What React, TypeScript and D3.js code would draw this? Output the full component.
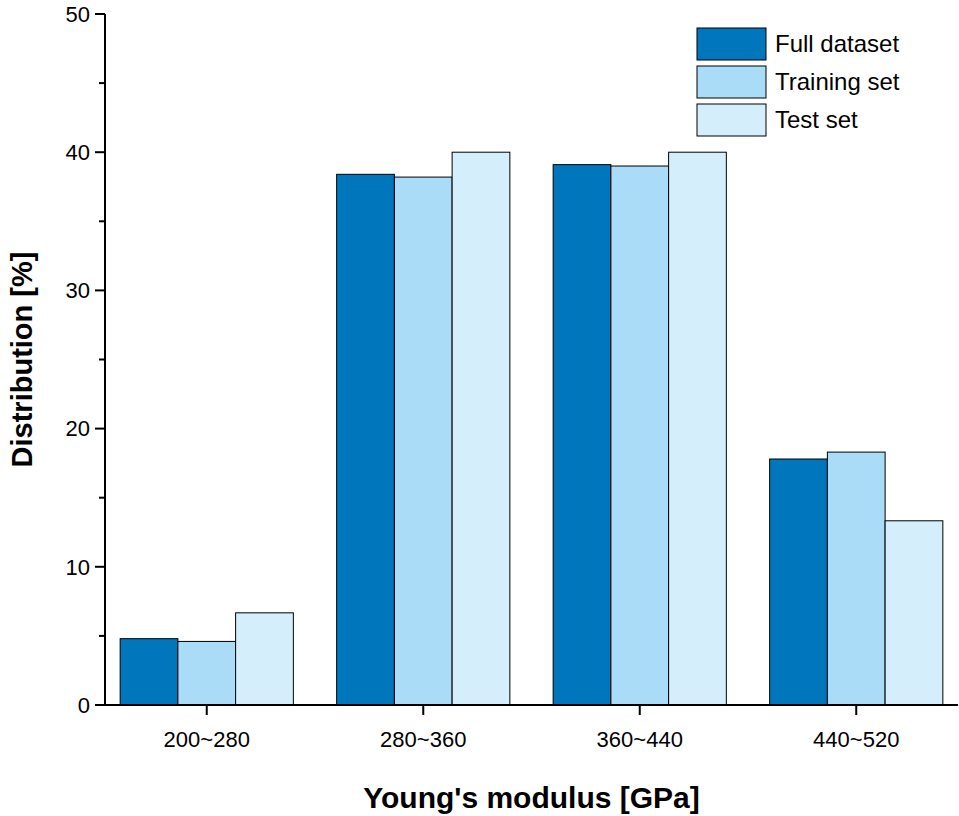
import React from "react";
import * as d3 from "d3";

const categories = ["200~280", "280~360", "360~440", "440~520"];
const seriesNames = ["Full dataset", "Training set", "Test set"];
const fullData = [4.8, 38.4, 39.1, 17.8];
const trainData = [4.6, 38.2, 39.0, 18.3];
const testData = [6.67, 40, 40, 13.33];
const colors = ["#0077bd", "#aadcf8", "#d5eefb"];
const yTicks = [0, 10, 20, 30, 40, 50];

const W = 959, H = 816;
const left = 105, right = 958, top = 14, bottom = 705;

export default function App() {
  const series = [fullData, trainData, testData];
  const x0 = d3.scaleBand().domain(categories).range([left, right]).paddingInner(0.2).paddingOuter(0.07);
  const x1 = d3.scaleBand().domain(seriesNames).range([0, x0.bandwidth()]);
  const y = d3.scaleLinear().domain([0, 50]).range([bottom, top]);
  const font = "Arial, 'Liberation Sans', sans-serif";

  return (
    <svg width={W} height={H} style={{ position: "absolute", left: 0, top: 0 }} fontFamily={font}>
      {categories.map((c, i) =>
        series.map((s, j) => (
          <rect key={c + j} x={x0(c)! + x1(seriesNames[j])!} y={y(s[i])}
            width={x1.bandwidth()} height={y(0) - y(s[i])}
            fill={colors[j]} stroke="#000" strokeWidth={1} />
        ))
      )}
      <line x1={left} x2={left} y1={top} y2={bottom} stroke="#000" strokeWidth={2} />
      <line x1={left} x2={right} y1={bottom} y2={bottom} stroke="#000" strokeWidth={2} />
      {d3.range(0, 51, 5).map(t => (
        <line key={t} x1={left} x2={left - (t % 10 === 0 ? 10 : 6)} y1={y(t)} y2={y(t)} stroke="#000" strokeWidth={2} />
      ))}
      {yTicks.map(t => (
        <text key={t} x={left - 15} y={y(t)} dy="0.35em" textAnchor="end" fontSize={22}>{t}</text>
      ))}
      {categories.map(c => (
        <g key={c}>
          <line x1={x0(c)! + x0.bandwidth() / 2} x2={x0(c)! + x0.bandwidth() / 2} y1={bottom} y2={bottom + 10} stroke="#000" strokeWidth={2} />
          <text x={x0(c)! + x0.bandwidth() / 2} y={bottom + 42} textAnchor="middle" fontSize={22}>{c}</text>
        </g>
      ))}
      <text transform={`translate(32,${(top + bottom) / 2}) rotate(-90)`} textAnchor="middle" fontSize={29} fontWeight="bold">Distribution [%]</text>
      <text x={(left + right) / 2} y={808} textAnchor="middle" fontSize={30} fontWeight="bold">Young's modulus [GPa]</text>
      {seriesNames.map((n, j) => (
        <g key={n}>
          <rect x={697} y={28 + j * 38} width={69} height={32} fill={colors[j]} stroke="#000" strokeWidth={1} />
          <text x={775} y={44 + j * 38} dy="0.35em" fontSize={24}>{n}</text>
        </g>
      ))}
    </svg>
  );
}
